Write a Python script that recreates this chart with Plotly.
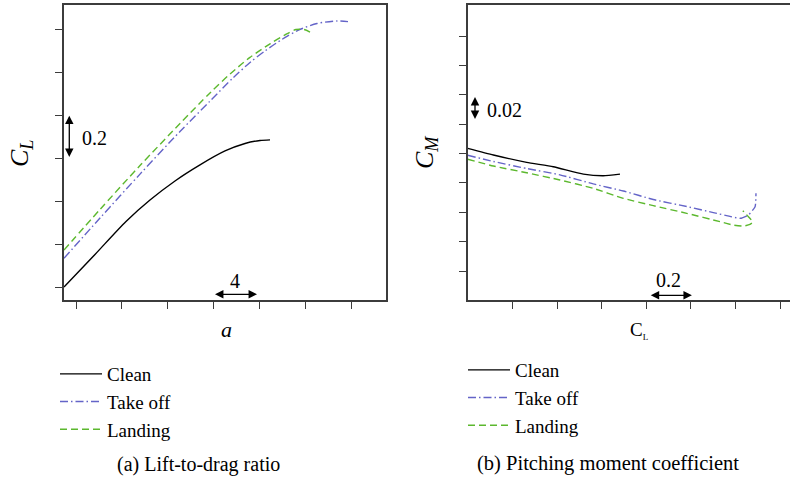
import plotly.graph_objects as go

# ---------------- data: panel (a) lift coefficient vs angle of attack ----------------
alpha_clean = [-5.047, -2.342, 0.364, 2.458, 4.640, 6.822, 9.004, 10.750, 12.059, 12.931]
cl_clean = [0.0, 0.152, 0.306, 0.406, 0.495, 0.570, 0.635, 0.670, 0.684, 0.687]

alpha_takeoff = [-5.047, -1.905, 1.586, 5.077, 7.695, 9.702, 11.186, 12.495, 13.979, 15.375, 17.033, 18.779, 19.739]
cl_takeoff = [0.134, 0.322, 0.527, 0.726, 0.868, 0.976, 1.048, 1.102, 1.156, 1.198, 1.230, 1.242, 1.239]

alpha_landing = [-5.047, -1.905, 1.586, 5.077, 7.695, 9.440, 11.186, 12.931, 14.240, 15.200, 15.899, 16.423]
cl_landing = [0.173, 0.362, 0.567, 0.763, 0.906, 0.994, 1.072, 1.135, 1.177, 1.202, 1.202, 1.190]

# ---------------- data: panel (b) pitching moment vs lift coefficient ----------------
clb_clean = [0.0, 0.115, 0.264, 0.383, 0.518, 0.607, 0.682]
cm_clean = [0.0035, -0.0010, -0.0060, -0.0090, -0.0140, -0.0151, -0.0140]

clb_takeoff = [0.0, 0.115, 0.264, 0.413, 0.563, 0.697, 0.831, 0.981, 1.100, 1.175, 1.220, 1.257, 1.287, 1.291]
cm_takeoff = [-0.0012, -0.0054, -0.0102, -0.0145, -0.0207, -0.0255, -0.0313, -0.0361, -0.0402, -0.0428,
              -0.0441, -0.0418, -0.0362, -0.0271]

clb_landing = [0.0, 0.115, 0.264, 0.413, 0.562, 0.697, 0.831, 0.981, 1.130, 1.189, 1.234, 1.264, 1.276, 1.257, 1.232]
cm_landing = [-0.0039, -0.0085, -0.0131, -0.0180, -0.0237, -0.0305, -0.0355, -0.0407, -0.0464, -0.0487,
              -0.0494, -0.0483, -0.0466, -0.0430, -0.0389]

series_names = ["Clean", "Take off", "Landing"]
alpha_ticks = [-4, 0, 4, 8, 12, 16, 20]
cl_ticks = [0.0, 0.2, 0.4, 0.6, 0.8, 1.0, 1.2]
clb_ticks = [0.2, 0.4, 0.6, 0.8, 1.0, 1.2, 1.4]
cm_ticks = [-0.08, -0.06, -0.04, -0.02, 0.0, 0.02, 0.04, 0.06, 0.08]

# scale-bar annotations (data units)
a_cl_bar = (0.6, 0.8)        # vertical bar "0.2" on panel (a)
a_alpha_bar = (8.0, 11.8)    # horizontal bar "4" on panel (a)
b_cm_bar = (0.0225, 0.0385)  # vertical bar "0.02" on panel (b)
b_cl_bar = (0.813, 1.004)    # horizontal bar "0.2" on panel (b)

# ---------------- styles ----------------
W, H = 790, 479
TOP, BOT = 5, 300
FONT = "Liberation Serif, Times New Roman, serif"
styles = [
    dict(color="black", width=1.4, dash="solid"),
    dict(color="#6464c8", width=1.4, dash="8px,3px,1.5px,3px"),
    dict(color="#5cb82e", width=1.4, dash="7px,4px"),
]


def fx(p):
    return p / W


def fy(p):
    return (BOT - p) / (BOT - TOP)


fig = go.Figure()
left = [(alpha_clean, cl_clean), (alpha_takeoff, cl_takeoff), (alpha_landing, cl_landing)]
right = [(clb_clean, cm_clean), (clb_takeoff, cm_takeoff), (clb_landing, cm_landing)]
for name, (xs, ys), st in zip(series_names, left, styles):
    fig.add_trace(go.Scatter(x=xs, y=ys, mode="lines", name=name, line=dict(shape="spline", smoothing=0.8, **st),
                             xaxis="x", yaxis="y", legend="legend"))
for name, (xs, ys), st in zip(series_names, right, styles):
    fig.add_trace(go.Scatter(x=xs, y=ys, mode="lines", name=name, line=dict(shape="spline", smoothing=0.5, **st),
                             xaxis="x2", yaxis="y2", legend="legend2"))

ax = dict(showgrid=False, zeroline=False, showline=True, linecolor="#3c3c3c", linewidth=1.6,
          ticks="outside", ticklen=7, tickwidth=1.4, tickcolor="#3c3c3c", showticklabels=False)


def leg(x, y):
    return dict(x=x, y=y, font=dict(family=FONT, size=19, color="black"), bgcolor="rgba(0,0,0,0)",
                itemwidth=42, xanchor="left", yanchor="top", tracegroupgap=0)


fig.update_layout(
    width=W, height=H, margin=dict(l=0, r=0, t=TOP, b=H - BOT),
    paper_bgcolor="white", plot_bgcolor="white",
    font=dict(family=FONT, size=20, color="black"),
    xaxis=dict(domain=[64 / W, 386 / W], range=[-5.047, 23.055], tickvals=alpha_ticks, mirror=True,
               anchor="y", **ax),
    yaxis=dict(domain=[0, 1], range=[-0.0607, 1.3165], tickvals=cl_ticks, mirror=True, anchor="x", **ax),
    xaxis2=dict(domain=[467.7 / W, 1], range=[0, 1.4434], tickvals=clb_ticks, mirror=True, anchor="y2", **ax),
    yaxis2=dict(domain=[0, 1], range=[-0.0997, 0.1011], tickvals=cm_ticks, mirror=False, anchor="x2", **ax),
    legend=leg(fx(55), fy(355)),
    legend2=leg(fx(463), fy(351)),
    showlegend=True,
)

ann = []


def txt(s, x, y, size=20, xanchor="center", **k):
    return dict(text=s, x=fx(x), y=fy(y), xref="paper", yref="paper", showarrow=False,
                xanchor=xanchor, yanchor="middle",
                font=dict(family=FONT, size=size, color="black"), **k)


ann.append(txt("<i>C</i><sub><i>L</i></sub>", 21, 154, 26, textangle=-90))
ann.append(txt("<i>C</i><sub><i>M</i></sub>", 426, 153, 26, textangle=-90))
ann.append(txt("<i>a</i>", 227, 329, 22))
ann.append(txt("C<sub><span style='font-size:9px'>L</span></sub>", 639, 331, 19))
ann.append(txt("(a) Lift-to-drag ratio", 198.3, 465, 20))
ann.append(txt("(b) Pitching moment coefficient", 607.5, 463.3, 20.5))
ann.append(txt("0.2", 80, 138.3, 20, xanchor="left"))
ann.append(txt("4", 235, 281, 20))
ann.append(txt("0.02", 485, 110, 20, xanchor="left"))
ann.append(txt("0.2", 668.3, 280, 20))

arrow = dict(text="", showarrow=True, arrowhead=2, arrowside="end+start", arrowsize=1.3, arrowwidth=1.3,
             arrowcolor="black", standoff=0, startstandoff=0)
ann.append(dict(x=-4.585, y=a_cl_bar[1], ax=-4.585, ay=a_cl_bar[0], xref="x", yref="y", axref="x", ayref="y", **arrow))
ann.append(dict(x=a_alpha_bar[1], y=-0.034, ax=a_alpha_bar[0], ay=-0.034, xref="x", yref="y", axref="x", ayref="y", **arrow))
ann.append(dict(x=0.0327, y=b_cm_bar[1], ax=0.0327, ay=b_cm_bar[0], xref="x2", yref="y2", axref="x2", ayref="y2", **arrow))
ann.append(dict(x=b_cl_bar[1], y=-0.0965, ax=b_cl_bar[0], ay=-0.0965, xref="x2", yref="y2", axref="x2", ayref="y2", **arrow))
fig.update_layout(annotations=ann)

fig.write_html("out.html")
